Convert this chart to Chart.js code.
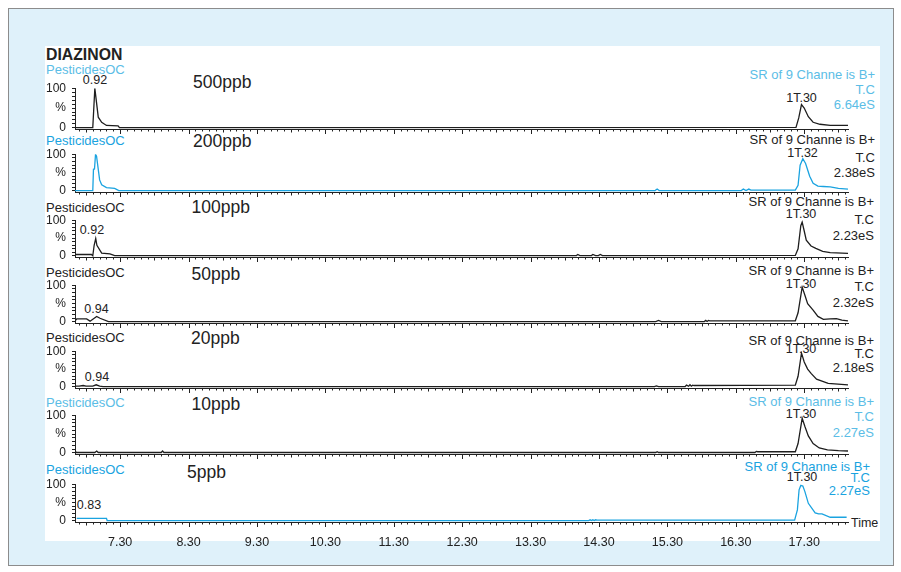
<!DOCTYPE html>
<html><head><meta charset="utf-8">
<script src="https://cdn.jsdelivr.net/npm/chart.js@4.4.1/dist/chart.umd.min.js"></script>
<style>
html,body{margin:0;padding:0;background:#fff;}
#page{position:relative;width:901px;height:572px;overflow:hidden;background:#fff;font-family:"Liberation Sans",Arial,sans-serif;color:#222;}
#frame{position:absolute;left:8px;top:8px;width:884px;height:556px;border:1px solid #8c8c8c;background:#dff1fa;}
#plot{position:absolute;left:45px;top:46px;width:835px;height:495px;background:#fff;}
canvas{position:absolute;}
.t{position:absolute;white-space:nowrap;line-height:1;transform:translateY(-50%);font-size:12.5px;}
.r{transform:translate(-100%,-50%);font-size:13px;}
.c{transform:translate(-50%,-50%);}
.ppb{font-size:17.5px;}
.pest{font-size:13px;}
.lc{color:#5bbde6;}
.bc{color:#1aa3e0;}
</style></head><body><div id="page">
<div id="frame"></div>
<div id="plot"></div>

<div class="t" style="left:46px;top:55px;font-size:15.8px;font-weight:bold;">DIAZINON</div>

<div class="t pest lc" style="left:46px;top:68.5px;">PesticidesOC</div>
<div class="t pest bc" style="left:46px;top:140px;">PesticidesOC</div>
<div class="t pest" style="left:46px;top:206.5px;">PesticidesOC</div>
<div class="t pest" style="left:46px;top:271.5px;">PesticidesOC</div>
<div class="t pest" style="left:46px;top:337px;">PesticidesOC</div>
<div class="t pest lc" style="left:46px;top:401.5px;">PesticidesOC</div>
<div class="t pest bc" style="left:46px;top:469px;">PesticidesOC</div>

<div class="t ppb" style="left:193px;top:82.5px;">500ppb</div>
<div class="t ppb" style="left:193px;top:141.5px;">200ppb</div>
<div class="t ppb" style="left:191.5px;top:208px;">100ppb</div>
<div class="t ppb" style="left:191.5px;top:275px;">50ppb</div>
<div class="t ppb" style="left:191px;top:339px;">20ppb</div>
<div class="t ppb" style="left:191.5px;top:405px;">10ppb</div>
<div class="t ppb" style="left:187px;top:473px;">5ppb</div>

<div class="t r lc" style="left:875px;top:74px;">SR of 9 Channe is B+</div>
<div class="t r lc" style="left:875px;top:88.5px;">T.C</div>
<div class="t r lc" style="left:875px;top:104px;">6.64eS</div>
<div class="t r" style="left:875px;top:139px;">SR of 9 Channe is B+</div>
<div class="t r" style="left:875px;top:157px;">T.C</div>
<div class="t r" style="left:875px;top:172px;">2.38eS</div>
<div class="t r" style="left:874px;top:201px;">SR of 9 Channe is B+</div>
<div class="t r" style="left:874px;top:218.5px;">T.C</div>
<div class="t r" style="left:874px;top:235px;">2.23eS</div>
<div class="t r" style="left:874px;top:269.5px;">SR of 9 Channe is B+</div>
<div class="t r" style="left:874px;top:286px;">T.C</div>
<div class="t r" style="left:874px;top:301.5px;">2.32eS</div>
<div class="t r" style="left:874px;top:339.5px;">SR of 9 Channe is B+</div>
<div class="t r" style="left:874px;top:352.5px;">T.C</div>
<div class="t r" style="left:874px;top:366.5px;">2.18eS</div>
<div class="t r lc" style="left:874px;top:401px;">SR of 9 Channe is B+</div>
<div class="t r lc" style="left:874px;top:416px;">T.C</div>
<div class="t r lc" style="left:874px;top:432px;">2.27eS</div>
<div class="t r bc" style="left:870px;top:466px;">SR of 9 Channe is B+</div>
<div class="t r bc" style="left:870px;top:477px;">T.C</div>
<div class="t r bc" style="left:870px;top:490px;">2.27eS</div>

<div class="t c" style="left:95px;top:80px;">0.92</div>
<div class="t c" style="left:801.5px;top:97.5px;">1T.30</div>
<div class="t c" style="left:802.5px;top:152.7px;">1T.32</div>
<div class="t c" style="left:92px;top:229.5px;">0.92</div>
<div class="t c" style="left:801px;top:214px;">1T.30</div>
<div class="t c" style="left:96.5px;top:308.5px;">0.94</div>
<div class="t c" style="left:801px;top:283.5px;">1T.30</div>
<div class="t c" style="left:97px;top:376.5px;">0.94</div>
<div class="t c" style="left:801px;top:349px;">1T.30</div>
<div class="t c" style="left:801px;top:414px;">1T.30</div>
<div class="t c" style="left:89px;top:504.5px;">0.83</div>
<div class="t c" style="left:802px;top:477px;">1T.30</div>
<div class="t" style="left:851px;top:522.5px;">Time</div>

<canvas id="c0"></canvas><canvas id="c1"></canvas><canvas id="c2"></canvas><canvas id="c3"></canvas>
<canvas id="c4"></canvas><canvas id="c5"></canvas><canvas id="c6"></canvas>
</div>
<script>
// ---- data ----
const xTickValues = [7.3, 8.3, 9.3, 10.3, 11.3, 12.3, 13.3, 14.3, 15.3, 16.3, 17.3];
const xTickLabels = ['7.30','8.30','9.30','10.30','11.30','12.30','13.30','14.30','15.30','16.30','17.30'];
const yTickValues = [0,10,20,30,40,50,60,70,80,90,100];
const yTickLabels = {0:'0', 50:'%', 100:'100'};

const t500 = [6.64, 6.90, 6.93, 6.98, 7.03, 7.10, 7.27, 7.29, 17.18, 17.22, 17.26, 17.30, 17.36, 17.43, 17.53, 17.68, 17.94];
const v500 = [0.5, 0.5, 100, 27, 14, 6, 5, 0.5, 1, 25, 59, 50, 28, 14, 9, 6, 6];

const t200 = [6.64, 6.90, 6.91, 6.925, 6.94, 6.955, 7.00, 7.03, 7.10, 7.22, 7.28, 15.12, 15.15, 15.18, 16.38, 16.41, 16.45, 16.49, 16.52, 17.17, 17.21, 17.24, 17.28, 17.32, 17.38, 17.43, 17.50, 17.58, 17.68, 17.80, 17.94];
const v200 = [1, 1, 59, 60, 100, 95, 30, 17, 9, 7, 1, 1, 5, 1, 1, 5, 1, 5, 2, 2, 15, 70, 88, 75, 40, 21, 13, 12, 11, 7, 5];

const t100 = [6.64, 6.88, 6.90, 6.92, 6.943, 6.96, 7.03, 7.15, 7.22, 13.97, 13.99, 14.02, 14.19, 14.21, 14.25, 14.29, 14.32, 14.35, 17.17, 17.21, 17.25, 17.27, 17.30, 17.33, 17.40, 17.47, 17.57, 17.68, 17.94];
const v100 = [4, 4, 0.5, 30, 49, 30, 8, 6, 1, 1, 4, 1, 1, 4, 1, 1, 4, 1, 1.5, 20, 85, 95, 70, 44, 28, 21, 13, 9, 7];

const t50 = [6.64, 6.665, 6.81, 6.86, 6.957, 7.005, 7.13, 15.13, 15.17, 15.21, 15.84, 15.86, 15.88, 15.90, 15.92, 17.17, 17.21, 17.27, 17.31, 17.35, 17.43, 17.50, 17.58, 17.68, 17.77, 17.85, 17.94];
const v50 = [3, 8, 8, 2, 15, 10, 1, 1, 4, 1, 1, 4, 1, 4, 3, 3, 25, 95, 73, 50, 32, 15, 7, 8, 9, 5, 3];

const t20 = [6.64, 6.70, 6.76, 6.80, 6.90, 6.95, 7.00, 7.05, 15.11, 15.14, 15.17, 15.56, 15.58, 15.61, 15.63, 15.65, 15.67, 15.69, 17.17, 17.21, 17.26, 17.30, 17.35, 17.40, 17.48, 17.58, 17.65, 17.94];
const v20 = [2, 2, 4, 2, 2, 6, 2, 1, 1, 3, 1, 1, 5, 2, 6, 2, 5, 4, 5, 30, 95, 70, 50, 38, 22, 15, 10, 6];

const t10 = [6.64, 6.66, 6.93, 6.957, 6.98, 7.90, 7.92, 7.94, 15.13, 15.15, 15.17, 16.58, 16.60, 16.62, 17.17, 17.21, 17.27, 17.31, 17.36, 17.43, 17.52, 17.64, 17.80, 17.94];
const v10 = [5, 1, 1, 5, 1, 1, 5, 1, 1, 3, 1, 1, 4, 3, 3, 25, 92, 70, 45, 25, 13, 8, 6, 5];

const t5 = [6.665, 7.10, 7.11, 14.15, 14.17, 14.19, 14.21, 14.23, 14.25, 14.27, 17.16, 17.20, 17.225, 17.25, 17.28, 17.31, 17.36, 17.46, 17.51, 17.56, 17.68, 17.92];
const v5 = [7, 7, 1, 1, 3, 1, 3, 1, 3, 2, 2, 30, 85, 97, 95, 80, 48, 22, 19, 19, 10, 10];

// ---- presentation ----
const BLACK = '#1e1e1e', CYAN = '#1aa3e0';
const X_MIN = 6.64, X_MAX = 17.94, Y_MIN = -3, Y_MAX = 100;
const panels = [
  {t:t500, v:v500, color:BLACK, top:88,  axis:129},
  {t:t200, v:v200, color:CYAN,  top:154, axis:192},
  {t:t100, v:v100, color:BLACK, top:220, axis:257},
  {t:t50,  v:v50,  color:BLACK, top:285, axis:323},
  {t:t20,  v:v20,  color:BLACK, top:351, axis:388},
  {t:t10,  v:v10,  color:BLACK, top:415, axis:454},
  {t:t5,   v:v5,   color:CYAN,  top:484, axis:522, labels:true}
];

// tick marks every 0.1 around each labelled major tick
const minorTicks = [];
xTickValues.forEach(m => {
  for (let k = -6; k <= 9; k++) {
    const v = Math.round((m + k * 0.1) * 100) / 100;
    if (v > X_MIN && v < X_MAX && !minorTicks.includes(v)) minorTicks.push(v);
  }
});

const tickPlugin = {
  id: 'timeTicks',
  afterDraw(chart) {
    const xs = chart.scales.x, ctx = chart.ctx, y0 = Math.round(chart.chartArea.bottom);
    ctx.save();
    ctx.strokeStyle = '#222';
    ctx.lineWidth = 1;
    ctx.beginPath();
    minorTicks.forEach(v => {
      const frac = Math.round(((v - 7.3) % 1 + 1) % 1 * 100) / 100;
      let len = 2.5;
      if (frac === 0 || frac === 1) len = 5;
      else if (frac === 0.5) len = 3.5;
      const px = Math.round(xs.getPixelForValue(v)) + 0.5;
      ctx.moveTo(px, y0);
      ctx.lineTo(px, y0 + len);
    });
    ctx.stroke();
    ctx.restore();
  }
};

Chart.defaults.font.family = '"Liberation Sans", Arial, sans-serif';
Chart.defaults.color = '#222';

const PAD_TOP = 6, LEFT = 45, WIDTH = 835, Y_AXIS_W = 30, PAD_RIGHT = 32;

panels.forEach((p, i) => {
  const xh = p.labels ? 24 : 8;
  const cv = document.getElementById('c' + i);
  const h = PAD_TOP + (p.axis - p.top) + xh;
  cv.width = WIDTH; cv.height = h;
  cv.style.left = LEFT + 'px';
  cv.style.top = (p.top - PAD_TOP) + 'px';
  cv.style.width = WIDTH + 'px'; cv.style.height = h + 'px';
  new Chart(cv, {
    type: 'line',
    data: {
      datasets: [{
        data: p.t.map((t, j) => ({x: t, y: p.v[j]})),
        borderColor: p.color,
        borderWidth: 1.3,
        pointRadius: 0,
        tension: 0,
        fill: false
      }]
    },
    options: {
      responsive: false,
      animation: false,
      devicePixelRatio: 1,
      layout: {padding: {top: PAD_TOP, right: PAD_RIGHT, left: 0, bottom: 0}},
      plugins: {legend: {display: false}, tooltip: {enabled: false}},
      scales: {
        x: {
          type: 'linear', min: X_MIN, max: X_MAX,
          grid: {display: false},
          border: {display: true, color: '#222', width: 1},
          ticks: {display: !!p.labels, padding: 5, font: {size: 12.5}, color: '#222',
                  autoSkip: false, maxRotation: 0,
                  callback: (v) => { const k = xTickValues.findIndex(x => Math.abs(x - v) < 1e-6); return k >= 0 ? xTickLabels[k] : ''; }},
          afterBuildTicks: (s) => { s.ticks = xTickValues.map(v => ({value: v})); },
          afterFit: (s) => { s.height = xh; }
        },
        y: {
          type: 'linear', min: Y_MIN, max: Y_MAX,
          grid: {display: true, drawOnChartArea: false, drawTicks: true, tickLength: 3, color: '#222', lineWidth: 1},
          border: {display: true, color: '#222', width: 1},
          ticks: {padding: 6, font: {size: 12, lineHeight: 0.05}, color: '#222', autoSkip: false,
                  callback: (v) => (yTickLabels[v] !== undefined ? yTickLabels[v] : '')},
          afterBuildTicks: (s) => { s.ticks = yTickValues.map(v => ({value: v})); },
          afterFit: (s) => { s.width = Y_AXIS_W; }
        }
      }
    },
    plugins: [tickPlugin]
  });
});
</script>
</body></html>
